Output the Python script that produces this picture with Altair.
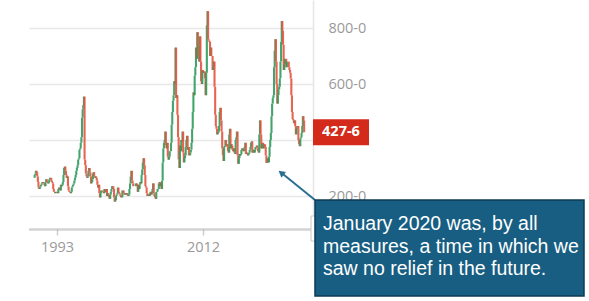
import altair as alt
import pandas as pd

# Monthly closes (cents/bu), Jan..Dec
years = list(range(1990, 2026))
closes = [
    [265, 275, 280, 290, 285, 270, 250, 230, 225, 230, 235, 240],  # 1990
    [245, 250, 250, 245, 240, 235, 250, 260, 255, 250, 245, 250],  # 1991
    [260, 265, 265, 255, 250, 245, 225, 215, 215, 210, 215, 215],  # 1992
    [215, 210, 225, 230, 225, 220, 240, 235, 240, 250, 275, 300],  # 1993
    [305, 290, 275, 265, 270, 235, 220, 215, 215, 210, 215, 230],  # 1994
    [235, 240, 245, 255, 265, 275, 290, 300, 310, 330, 335, 365],  # 1995
    [370, 390, 410, 480, 510, 525, 555, 330, 310, 280, 270, 265],  # 1996
    [270, 290, 300, 285, 270, 245, 250, 260, 280, 285, 270, 265],  # 1997
    [270, 265, 255, 240, 230, 240, 210, 195, 210, 220, 220, 215],  # 1998
    [215, 210, 225, 220, 215, 225, 200, 210, 205, 195, 190, 205],  # 1999
    [215, 225, 235, 235, 225, 195, 180, 185, 200, 205, 210, 230],  # 2000
    [215, 210, 205, 200, 195, 195, 220, 220, 210, 205, 210, 210],  # 2001
    [205, 210, 205, 200, 205, 225, 245, 270, 290, 255, 245, 235],  # 2002
    [235, 235, 235, 245, 245, 235, 215, 240, 225, 240, 250, 245],  # 2003
    [275, 295, 320, 335, 310, 275, 235, 230, 210, 200, 200, 205],  # 2004
    [200, 210, 215, 205, 210, 225, 245, 210, 200, 195, 190, 215],  # 2005
    [215, 225, 225, 245, 250, 235, 245, 225, 255, 320, 370, 390],  # 2006
    [400, 430, 380, 370, 390, 340, 330, 340, 360, 360, 390, 455],  # 2007
    [500, 540, 560, 610, 600, 730, 550, 560, 490, 410, 330, 300],  # 2008
    [380, 360, 400, 395, 430, 355, 320, 335, 345, 375, 400, 415],  # 2009
    [365, 375, 345, 345, 355, 365, 390, 440, 500, 570, 560, 630],  # 2010
    [660, 730, 690, 785, 735, 700, 680, 770, 680, 610, 600, 650],  # 2011
    [640, 645, 645, 620, 560, 640, 810, 860, 760, 755, 750, 700],  # 2012
    [730, 700, 700, 650, 660, 680, 590, 490, 450, 440, 420, 425],  # 2013
    [430, 450, 500, 515, 470, 430, 370, 345, 325, 375, 380, 400],  # 2014
    [380, 385, 375, 360, 355, 420, 440, 370, 385, 380, 365, 360],  # 2015
    [370, 355, 350, 400, 410, 430, 345, 315, 335, 350, 345, 350],  # 2016
    [365, 370, 365, 360, 370, 375, 390, 350, 355, 350, 345, 350],  # 2017
    [355, 365, 375, 390, 395, 355, 360, 365, 355, 365, 375, 375],  # 2018
    [380, 370, 360, 355, 420, 470, 420, 370, 385, 390, 370, 385],  # 2019
    [385, 375, 345, 318, 320, 335, 320, 340, 375, 400, 425, 485],  # 2020
    [530, 550, 560, 660, 720, 760, 680, 600, 530, 560, 580, 590],  # 2021
    [620, 680, 750, 825, 790, 740, 650, 670, 690, 690, 660, 680],  # 2022
    [680, 680, 660, 650, 640, 620, 560, 500, 475, 470, 460, 470],  # 2023
    [450, 420, 440, 445, 450, 400, 385, 378, 405, 410, 425, 450],  # 2024
    [485, 470, 427.75],                                            # 2025
]
last_price = 427.75
last_label = "427-6"

x_ticks = [1993, 2012]
y_ticks = [200, 400, 600, 800]
note_lines = ["January 2020 was, by all", "measures, a time in which we", "saw no relief in the future."]

GREEN = "#2f9a5c"
RED = "#e5533f"

rows = []
prev = None
for yr, vals in zip(years, closes):
    for m, c in enumerate(vals):
        o = c if prev is None else prev
        rows.append({"t": yr + m / 12.0, "open": o, "close": c,
                     "dir": "up" if c >= o else "down"})
        prev = c
df = pd.DataFrame(rows)

xs = alt.Scale(domain=[1990.0, 2025.67], nice=False, zero=False)
ys = alt.Scale(domain=[82.2, 900], nice=False, zero=False)

FONT = "Open Sans"

candles = alt.Chart(df).mark_bar(size=2.1, opacity=0.9).encode(
    x=alt.X("t:Q", scale=xs, axis=alt.Axis(
        values=x_ticks, format="d", title=None, grid=False,
        domainDash=[1, 1], domainColor="#a8a8a8", domainWidth=2.5,
        tickColor="#cccccc", tickSize=6, tickWidth=1.5,
        labelColor="#9a9a9a", labelFontSize=14.5, labelFont=FONT, labelPadding=5)),
    y=alt.Y("open:Q", scale=ys, axis=alt.Axis(
        orient="right", values=y_ticks,
        labelExpr="datum.value == 400 ? '' : datum.value + '-0'", title=None,
        grid=True, gridColor="#e8e8e8", gridWidth=1.5,
        domain=True, domainColor="#e6e6e6", domainWidth=1.5,
        ticks=False, labelPadding=15,
        labelColor="#9a9a9a", labelFontSize=14.5, labelFont=FONT)),
    y2="close:Q",
    color=alt.Color("dir:N", scale=alt.Scale(domain=["up", "down"], range=[GREEN, RED]), legend=None),
)

# price tag bound to the last close
tag_path = "M-1,-0.464L1,-0.464L1,0.464L-1,0.464Z"
tag = alt.Chart(pd.DataFrame({"p": [last_price]})).mark_point(
    shape=tag_path, size=56 * 56, filled=True, fill="#d42a1c", opacity=1, strokeWidth=0
).encode(x=alt.value(312), y=alt.Y("p:Q", scale=ys))
tag_text = alt.Chart(pd.DataFrame({"p": [last_price], "s": [last_label]})).mark_text(
    color="white", fontWeight="bold", fontSize=14.5, font=FONT, align="center", baseline="middle"
).encode(x=alt.value(312), y=alt.Y("p:Q", scale=ys), text="s:N")

handle = alt.Chart(pd.DataFrame({"a": [0]})).mark_rect(
    fill="white", stroke="#c8c8c8", strokeWidth=1
).encode(x=alt.value(282), x2=alt.value(287), y=alt.value(216), y2=alt.value(241))

arrow_line = alt.Chart(pd.DataFrame({"a": [0]})).mark_rule(
    color="#2b6f93", strokeWidth=2
).encode(x=alt.value(286), y=alt.value(200), x2=alt.value(252), y2=alt.value(172.5))
arrow_head = alt.Chart(pd.DataFrame({"a": [0]})).mark_point(
    shape="triangle", size=55, filled=True, color="#2b6f93", angle=309, opacity=1
).encode(x=alt.value(253), y=alt.value(173.5))

box = alt.Chart(pd.DataFrame({"a": [0]})).mark_rect(
    fill="#175e82", stroke="#0e3a52", strokeWidth=1.5
).encode(x=alt.value(286), x2=alt.value(555), y=alt.value(200), y2=alt.value(296))
note = alt.Chart(pd.DataFrame({"a": [0]})).mark_text(
    text=note_lines, color="white", fontSize=19.5, font="Liberation Sans",
    align="left", baseline="alphabetic", lineHeight=22.5
).encode(x=alt.value(294), y=alt.value(230))

chart = alt.layer(candles, tag, tag_text, handle, arrow_line, arrow_head, box, note).properties(
    width=284, height=229,
    autosize=alt.AutoSizeParams(type="none"),
    padding={"left": 29, "top": 0, "right": 276, "bottom": 72},
    background="white",
).configure_view(stroke=None)

chart.save("out.html", embed_options={"renderer": "svg", "actions": False})
